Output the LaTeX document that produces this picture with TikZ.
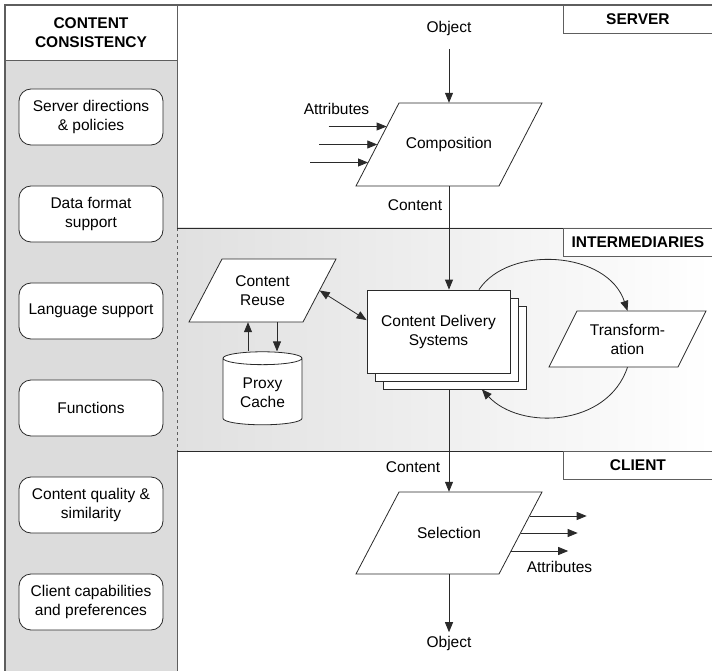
\documentclass[tikz,border=0pt]{standalone}
\usepackage{fontspec}
\setmainfont{Liberation Sans}
\usetikzlibrary{arrows.meta,positioning,calc,shapes.geometric,shadows}
\definecolor{ccLine}{HTML}{2A2A2A}
\definecolor{ccFrame}{HTML}{5E5E5E}
\definecolor{ccColumn}{HTML}{DCDCDC}
\definecolor{ccShade}{HTML}{E0E0E0}
\newcommand{\ccfont}{\fontsize{15.5}{19}\selectfont}
% slanted outline: centre, half body width, half height, half slant
\newcommand{\ccslant}[4]{\filldraw[ccLine,fill=white,line width=0.8pt]
  ($(#1)+(-#2+#4,-#3)$) -- ($(#1)+(#2+#4,-#3)$) -- ($(#1)+(#2-#4,#3)$) -- ($(#1)+(-#2-#4,#3)$) -- cycle;}
\tikzset{
  lanehead/.style={draw=ccFrame,line width=0.9pt,fill=white,minimum width=149pt,
    minimum height=28pt,font=\ccfont\bfseries,inner sep=0pt,anchor=north west},
  concern/.style={draw=ccLine,line width=0.8pt,fill=white,rounded corners=12pt,
    minimum width=144pt,minimum height=56pt,align=center,inner sep=2pt},
  procbox/.style={rectangle,inner sep=0pt,align=center},
  deliver/.style={draw=ccLine,line width=0.8pt,fill=white,minimum width=143pt,
    minimum height=83pt,align=center,
    double copy shadow={shadow xshift=8pt,shadow yshift=-8pt,draw=ccLine,fill=white}},
  store/.style={cylinder,shape border rotate=90,aspect=0.25,draw=ccLine,line width=0.8pt,
    fill=white,minimum width=79pt,minimum height=73pt,align=center},
  flow/.style={-{Triangle[length=10pt,width=8pt]},line width=0.8pt,ccLine},
  twoway/.style={{Triangle[length=10pt,width=8pt]}-{Triangle[length=10pt,width=8pt]},
    line width=0.8pt,ccLine}
}

\begin{document}
\begin{tikzpicture}[x=1pt,y=-1pt,font=\ccfont]
  \useasboundingbox (0,0) rectangle (712,671);
  % lanes
  \fill[ccColumn] (5,61) rectangle (177,671);
  \shade[left color=ccShade,right color=white] (177,228) rectangle (712,451);
  \draw[ccFrame,line width=1.2pt] (5,671) -- (5,5) -- (712,5);
  \draw[ccFrame,line width=1pt] (5,61) -- (177,61);
  \draw[ccFrame,line width=1pt] (177,5) -- (177,228) (177,451) -- (177,671);
  \draw[ccFrame,line width=1pt,dashed] (177,228) -- (177,451);
  \draw[ccLine,line width=0.8pt] (177,228) -- (712,228) (177,451) -- (712,451);
  \node[font=\ccfont\bfseries,align=center] (cc) at (91,33) {CONTENT\\CONSISTENCY};
  \node[lanehead] (server) at (563,5) {SERVER};
  \node[lanehead] (inter) at (563,228) {INTERMEDIARIES};
  \node[lanehead] (client) at (563,451) {CLIENT};
  \foreach \txt [count=\i] in {{Server directions\\\& policies},{Data format\\support},
      {Language support},{Functions},{Content quality \&\\similarity},
      {Client capabilities\\and preferences}}
    \node[concern] (c\i) at (91,{20+97*\i}) {\txt};

  % server
  \node (obj1) at (449,28) {Object};
  \ccslant{449,144.5}{71.5}{41.5}{21.5}
  \node[procbox,minimum width=143pt,minimum height=83pt] (comp) at (449,144.5) {Composition};
  \node (attin) at (336.5,109) {Attributes};
  \node (cont1) at (415,205) {Content};
  \foreach \dy/\dx [count=\i] in {-18/9.3,0/0,18/-9.3}{
    \coordinate (ain\i) at ($(comp.west)+(\dx-58,\dy)$);
    \draw[flow] (ain\i) -- ($(comp.west)+(\dx,\dy)$);
  }
  \draw[flow] ([yshift=-10pt]obj1.south) -- (comp.north);

  % intermediaries
  \node[deliver] (cds) at (438.5,331.5) {Content Delivery\\Systems};
  \ccslant{262.5,290.5}{57}{31.5}{16.5}
  \node[procbox,minimum width=114pt,minimum height=63pt] (reuse) at (262.5,290.5) {Content\\Reuse};
  \node[store] (cache) at (262.5,393) {Proxy\\Cache};
  \ccslant{627.5,339}{64.5}{28}{14}
  \node[procbox,minimum width=129pt,minimum height=56pt] (trans) at (627.5,339) {Transform-\\ation};
  \draw[flow] (comp.south) -- (comp.south |- cds.north);
  \draw[twoway] (reuse.east) -- (cds.171);
  \coordinate (up) at ([xshift=-14.5pt]cache.north);
  \coordinate (dn) at ([xshift=14.5pt]cache.north);
  \draw[flow] (up) -- (up |- reuse.south);
  \draw[flow] (dn |- reuse.south) -- (dn);
  \draw[flow] (cds.46) .. controls +(30,-45) and +(-20,-60) .. (trans.north);
  \draw[flow] (trans.south) .. controls +(-20,60) and +(38,41) .. ($(cds.-44)+(0,16)$);

  % client
  \node (cont2) at (413,467) {Content};
  \ccslant{449,533}{71.5}{41}{21.5}
  \node[procbox,minimum width=143pt,minimum height=82pt] (sel) at (449,533) {Selection};
  \node (attout) at (559.5,567) {Attributes};
  \node (obj2) at (449,643) {Object};
  \draw[flow] ($(comp.south |- cds.south)+(0,16)$) -- (sel.north);
  \foreach \dy/\dx [count=\i] in {-17/9,0/0,18/-9.5}{
    \coordinate (aout\i) at ($(sel.east)+(\dx+57,\dy)$);
    \draw[flow] ($(sel.east)+(\dx,\dy)$) -- (aout\i);
  }
  \draw[flow] (sel.south) -- (obj2);
\end{tikzpicture}
\end{document}
